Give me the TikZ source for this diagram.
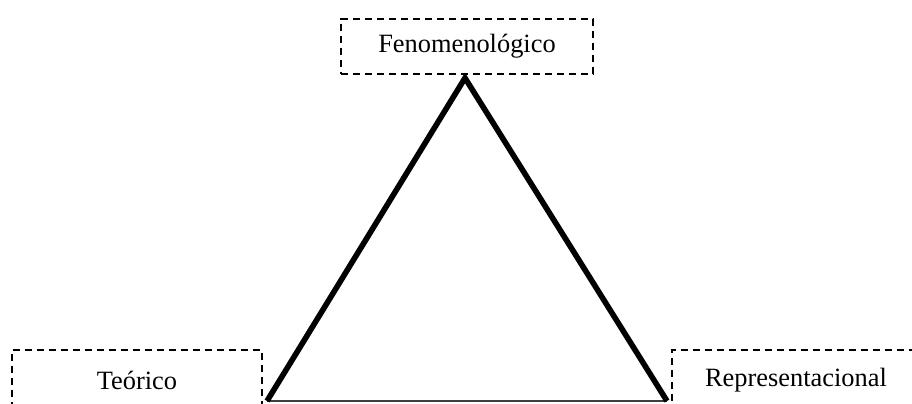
\documentclass[tikz,border=0pt]{standalone}
\usepackage{fontspec}
\setmainfont{Liberation Serif}
\usetikzlibrary{positioning}

\begin{document}
\begin{tikzpicture}[
  x=0.75pt,y=-0.75pt,
  every node/.style={font=\fontsize{19.8}{24}\selectfont,align=center},
  dbox/.style={draw,dash pattern=on 5.6pt off 3.4pt,line width=1.8pt,inner sep=0pt},
  side/.style={line width=4.2pt,line join=miter},
  base/.style={line width=1pt,black!75}
]
\useasboundingbox (0,0) rectangle (912,403);
\clip (0,0) rectangle (912,403);
\node[dbox,minimum width=189pt,minimum height=41.25pt] (fen) at (467,46.5) {Fenomenol\'ogico};
\node[dbox,minimum width=187.5pt,minimum height=45pt] (teo) at (137,380) {Te\'orico};
\node[dbox,minimum width=186pt,minimum height=45pt] (rep) at (796,380) {Representacional};
\coordinate (apex) at (465,78);
\coordinate (vl) at (267,401);
\coordinate (vr) at (667,401);
\draw[base] (vl)--(vr);
\draw[side] (vl)--(apex)--(vr);
\end{tikzpicture}
\end{document}
